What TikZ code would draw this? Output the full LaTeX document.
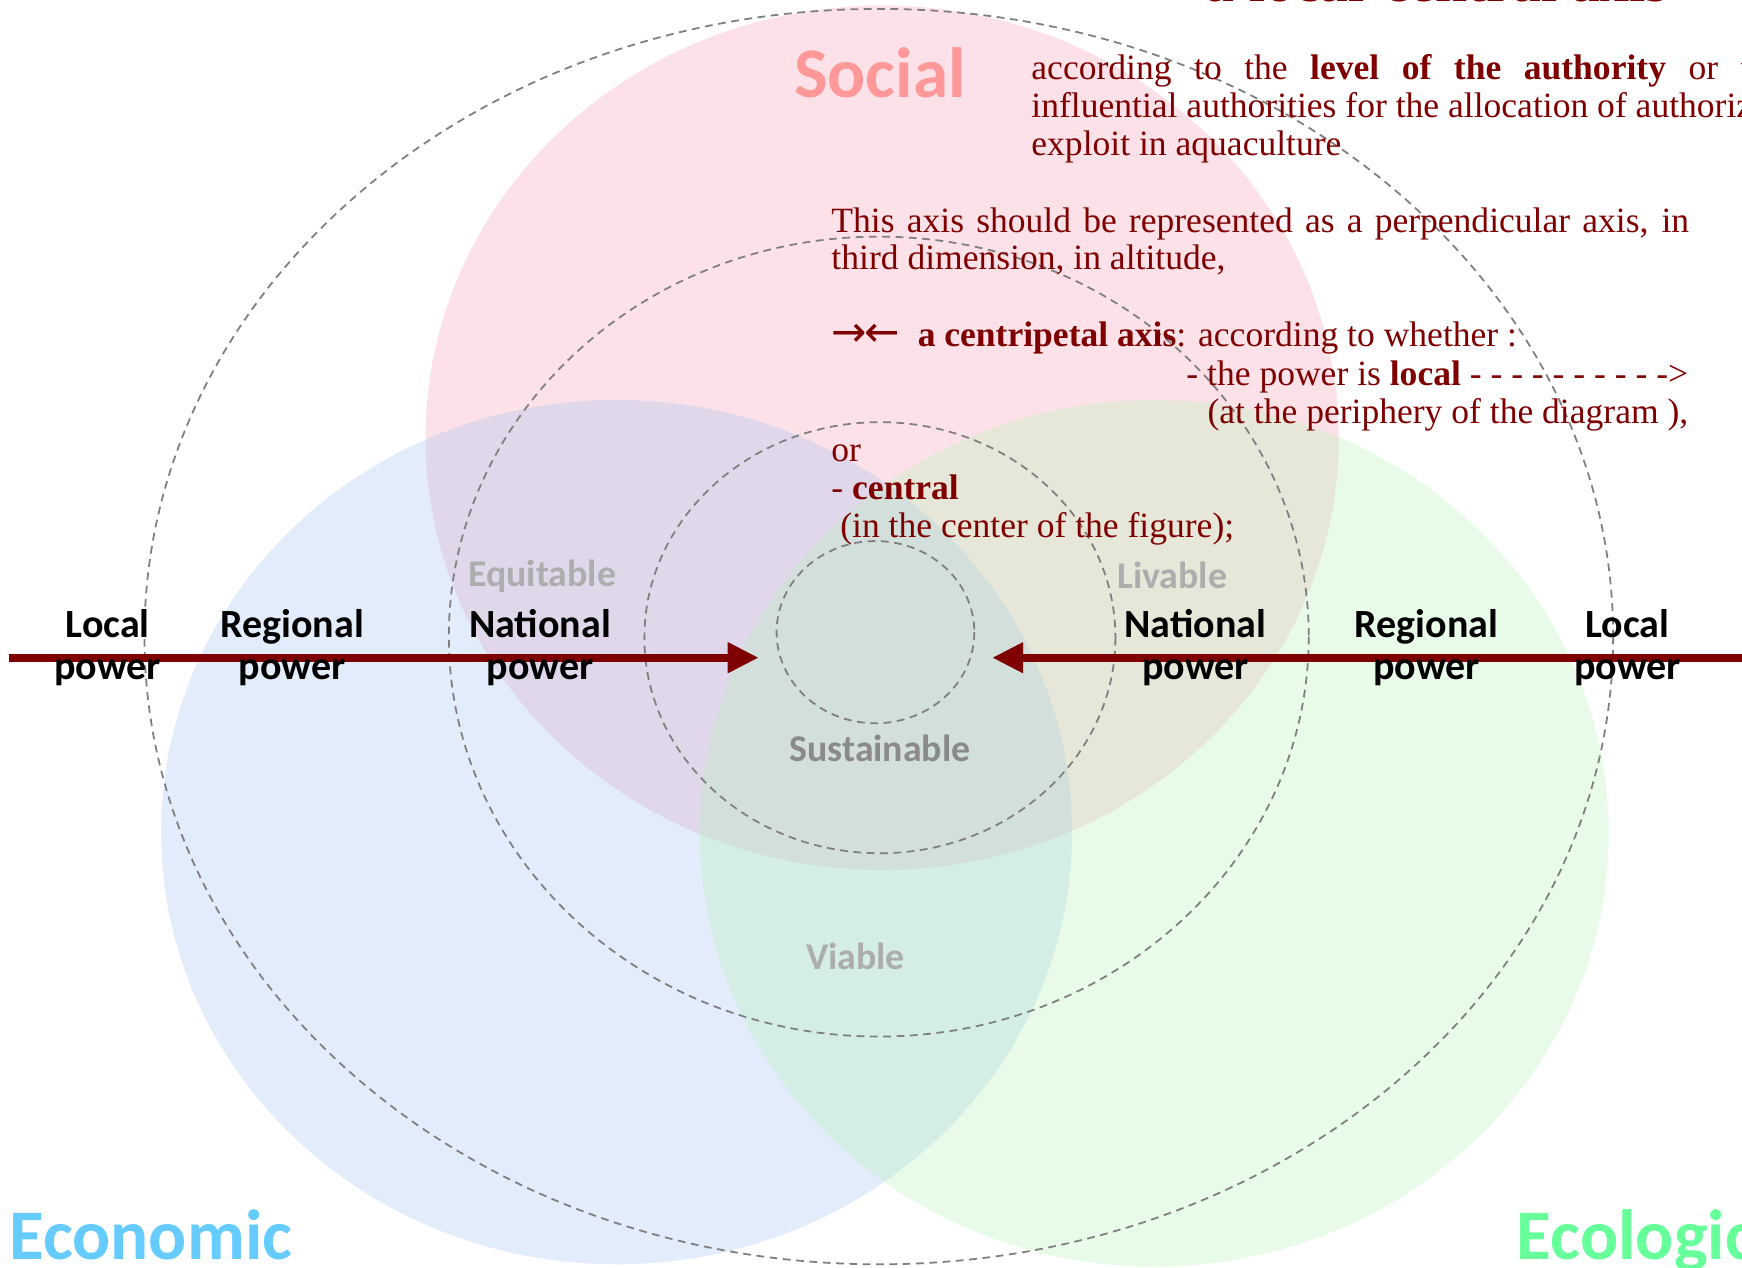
\documentclass[tikz,border=0pt]{standalone}
\usepackage{fontspec}
\setmainfont{Liberation Serif}
\newfontfamily\carl{Carlito}
\newfontfamily\dvs{DejaVu Sans}
\usetikzlibrary{arrows.meta}
\definecolor{axisred}{HTML}{7F0000}
\definecolor{socfill}{HTML}{F4A0B4}
\definecolor{ecofill}{HTML}{A0C0F2}
\definecolor{envfill}{HTML}{B4F2B4}
\definecolor{socialtxt}{HTML}{FF9999}
\definecolor{economictxt}{HTML}{66CCFF}
\definecolor{ecologictxt}{HTML}{66FF99}
\definecolor{ringgray}{HTML}{7F7F7F}
\definecolor{lightlab}{HTML}{ADADAD}
\definecolor{midlab}{HTML}{8A8A8A}
\tikzset{
  zone/.style={fill opacity=0.3},
  ring/.style={draw=ringgray, line width=0.8pt, dash pattern=on 3.5pt off 2.5pt},
  axisline/.style={draw=axisred, line width=3.6pt, -{Triangle[length=14pt,width=13pt]}},
  powerlab/.style={anchor=base, inner sep=0pt, font=\carl\bfseries\fontsize{18}{20}\selectfont, text=black},
  sphere/.style={anchor=base, inner sep=0pt, font=\carl\bfseries\fontsize{17}{19}\selectfont},
  bigcat/.style={inner sep=0pt, font=\carl\bfseries\fontsize{32}{34}\selectfont},
  body/.style={anchor=base west, inner sep=0pt, text=axisred, font=\fontsize{16}{17.25}\selectfont},
}
\begin{document}
\begin{tikzpicture}[x=0.5pt,y=-0.5pt]
\useasboundingbox (0,0) rectangle (1568,1141);
\clip (0,0) rectangle (1568,1141);
% coloured spheres
\fill[socfill, zone] (794,394) ellipse [x radius=411, y radius=389];
\fill[ecofill, zone] (555,749) ellipse [x radius=410, y radius=389];
\fill[envfill, zone] (1039,750) ellipse [x radius=409, y radius=390];
% dashed rings
\draw[ring] (791,573) ellipse [x radius=661, y radius=565];
\draw[ring] (791,573) ellipse [x radius=387, y radius=360];
\draw[ring] (792,574) ellipse [x radius=212, y radius=194];
\draw[ring] (788,569) ellipse [x radius=89, y radius=82];
% title fragment (cut by the top edge)
\node[anchor=base west, inner sep=0pt, text=axisred, font=\bfseries\fontsize{26}{28}\selectfont] (title) at (1085,1) {a local-central axis};
% category names
\node[bigcat, text=socialtxt, anchor=base] (social) at (792,88) {Social};
\node[bigcat, text=economictxt, anchor=base west] (economic) at (8,1134) {Economic};
\node[bigcat, text=ecologictxt, anchor=base west] (ecological) at (1365,1134) {Ecological};
% sphere names
\node[sphere, text=lightlab] (equitable) at (488,528) {Equitable};
\node[sphere, text=lightlab] (livable) at (1055,530) {Livable};
\node[sphere, text=midlab] (sustainable) at (792,685) {Sustainable};
\node[sphere, text=lightlab] (viable) at (770,873) {Viable};
% axis
\coordinate (lstart) at (8,592);
\coordinate (ltip) at (683,592);
\coordinate (rstart) at (1580,592);
\coordinate (rtip) at (893,592);
\draw[axisline] (lstart) -- (ltip);
\draw[axisline] (rstart) -- (rtip);
% power labels
\node[powerlab] (loc1a) at (97,574) {Local};
\node[powerlab] (loc1b) at (97,612) {power};
\node[powerlab] (reg1a) at (263,574) {Regional};
\node[powerlab] (reg1b) at (263,612) {power};
\node[powerlab] (nat1a) at (486,574) {National};
\node[powerlab] (nat1b) at (486,612) {power};
\node[powerlab] (nat2a) at (1076,574) {National};
\node[powerlab] (nat2b) at (1076,612) {power};
\node[powerlab] (reg2a) at (1284,574) {Regional};
\node[powerlab] (reg2b) at (1284,612) {power};
\node[powerlab] (loc2a) at (1465,574) {Local};
\node[powerlab] (loc2b) at (1465,612) {power};
% explanatory text
\node[body] (p1a) at (928,72) {\makebox[380pt][s]{according to the \textbf{level of the authority} or the most}};
\node[body] (p1b) at (928,106) {influential authorities for the allocation of authorizations to};
\node[body] (p1c) at (928,140) {exploit in aquaculture};
\node[body] (p2a) at (748,209) {\makebox[386pt][s]{This axis should be represented as a perpendicular axis, in}};
\node[body] (p2b) at (748,243) {third dimension, in altitude,};
\node[body] (p3a) at (748,312) {{\dvs\fontsize{19}{19}\selectfont →\kern-1pt←}\ \ \textbf{a centripetal axis}: according to whether :};
\node[body, anchor=base east] (p3b) at (1520,347) {- the power is \textbf{local} - - - - - - - - - ->};
\node[body, anchor=base east] (p3c) at (1520,381) {(at the periphery of the diagram ),};
\node[body] (p3d) at (748,415) {or};
\node[body] (p3e) at (748,450) {- \textbf{central}};
\node[body] (p3f) at (748,484) {\ (in the center of the figure);};
\end{tikzpicture}
\end{document}
